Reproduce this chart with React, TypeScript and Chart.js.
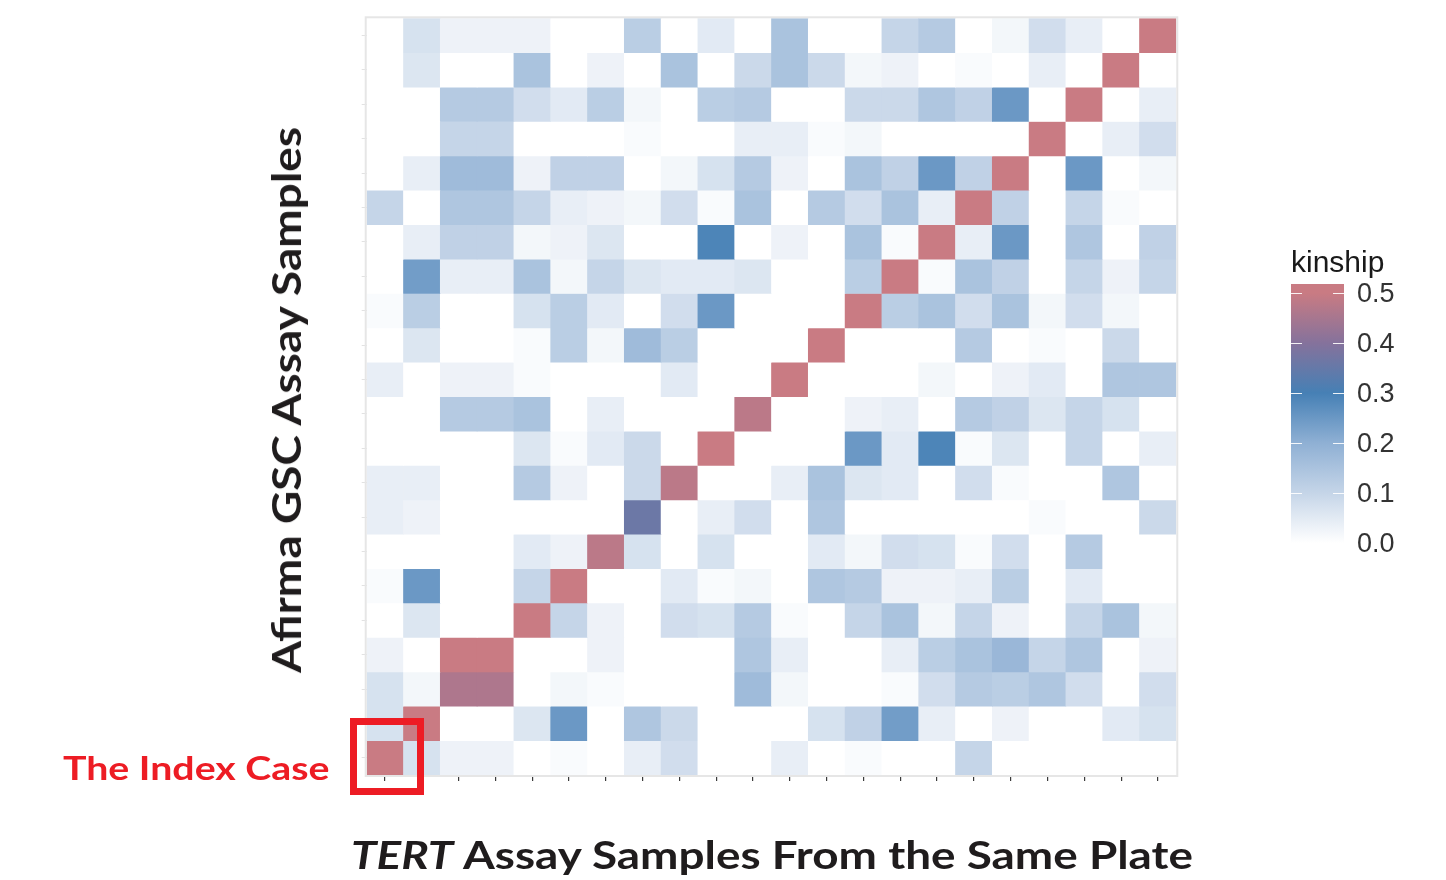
import React, { useEffect, useRef } from "react";
import { Chart, registerables } from "chart.js";

Chart.register(...registerables);

// TERT assay samples (x axis, left to right)
const tertSamples = [
  "T01", "T02", "T03", "T04", "T05", "T06", "T07", "T08", "T09", "T10", "T11",
  "T12", "T13", "T14", "T15", "T16", "T17", "T18", "T19", "T20", "T21", "T22",
];

// Afirma GSC assay samples (y axis, listed top to bottom)
const afirmaSamples = [
  "A22", "A21", "A20", "A19", "A18", "A17", "A16", "A15", "A14", "A13", "A12",
  "A11", "A10", "A09", "A08", "A07", "A06", "A05", "A04", "A03", "A02", "A01",
];

// kinship values per Afirma sample (one value per TERT sample)
const kinA22 = [0, 0.07, 0.03, 0.03, 0.03, 0, 0, 0.12, 0, 0.05, 0, 0.15, 0, 0, 0.1, 0.13, 0, 0.02, 0.08, 0.04, 0, 0.5];
const kinA21 = [0, 0.06, 0, 0, 0.15, 0, 0.03, 0, 0.15, 0, 0.09, 0.15, 0.09, 0.02, 0.03, 0, 0.01, 0, 0.04, 0, 0.5, 0];
const kinA20 = [0, 0, 0.13, 0.13, 0.08, 0.05, 0.12, 0.02, 0, 0.12, 0.13, 0, 0, 0.09, 0.09, 0.14, 0.11, 0.25, 0, 0.5, 0, 0.04];
const kinA19 = [0, 0, 0.1, 0.1, 0, 0, 0, 0.01, 0, 0, 0.04, 0.04, 0.01, 0.02, 0, 0, 0, 0, 0.5, 0, 0.04, 0.08];
const kinA18 = [0, 0.04, 0.17, 0.17, 0.03, 0.11, 0.11, 0, 0.02, 0.07, 0.13, 0.03, 0, 0.15, 0.11, 0.25, 0.11, 0.5, 0, 0.25, 0, 0.02];
const kinA17 = [0.1, 0, 0.14, 0.14, 0.1, 0.04, 0.03, 0.02, 0.08, 0.01, 0.15, 0, 0.13, 0.08, 0.15, 0.04, 0.5, 0.11, 0, 0.1, 0.01, 0];
const kinA16 = [0, 0.04, 0.11, 0.11, 0.02, 0.03, 0.06, 0, 0, 0.29, 0, 0.03, 0, 0.15, 0.01, 0.5, 0.04, 0.25, 0, 0.14, 0, 0.11];
const kinA15 = [0, 0.24, 0.04, 0.04, 0.15, 0.02, 0.1, 0.06, 0.05, 0.05, 0.06, 0, 0, 0.12, 0.5, 0.01, 0.15, 0.11, 0, 0.1, 0.03, 0.1];
const kinA14 = [0.01, 0.12, 0, 0, 0.07, 0.12, 0.05, 0, 0.08, 0.25, 0, 0, 0, 0.5, 0.12, 0.15, 0.08, 0.15, 0.02, 0.08, 0.02, 0];
const kinA13 = [0, 0.06, 0, 0, 0.01, 0.12, 0.02, 0.17, 0.12, 0, 0, 0, 0.5, 0, 0, 0, 0.13, 0, 0.01, 0, 0.09, 0];
const kinA12 = [0.04, 0, 0.03, 0.03, 0.01, 0, 0, 0, 0.05, 0, 0, 0.5, 0, 0, 0, 0.02, 0, 0.03, 0.05, 0, 0.14, 0.14];
const kinA11 = [0, 0, 0.13, 0.13, 0.15, 0, 0.04, 0, 0, 0, 0.48, 0, 0, 0.03, 0.04, 0, 0.13, 0.11, 0.06, 0.1, 0.07, 0];
const kinA10 = [0, 0, 0, 0, 0.06, 0.01, 0.05, 0.09, 0, 0.5, 0, 0, 0, 0.25, 0.05, 0.29, 0.01, 0.06, 0, 0.1, 0, 0.04];
const kinA09 = [0.04, 0.04, 0, 0, 0.13, 0.03, 0, 0.09, 0.48, 0, 0, 0.04, 0.15, 0.06, 0.05, 0, 0.08, 0.01, 0, 0, 0.14, 0];
const kinA08 = [0.04, 0.03, 0, 0, 0, 0, 0, 0.36, 0, 0.04, 0.08, 0, 0.14, 0, 0, 0, 0, 0, 0.01, 0, 0, 0.09];
const kinA07 = [0, 0, 0, 0, 0.05, 0.03, 0.48, 0.07, 0, 0.07, 0, 0, 0.05, 0.02, 0.08, 0.07, 0.01, 0.08, 0, 0.13, 0, 0];
const kinA06 = [0.01, 0.25, 0, 0, 0.1, 0.5, 0, 0, 0.05, 0.01, 0.02, 0, 0.14, 0.13, 0.03, 0.03, 0.04, 0.12, 0, 0.05, 0, 0];
const kinA05 = [0, 0.06, 0, 0, 0.5, 0.1, 0.03, 0, 0.08, 0.07, 0.13, 0.01, 0, 0.1, 0.15, 0.02, 0.1, 0.03, 0, 0.1, 0.15, 0.02];
const kinA04 = [0.03, 0, 0.5, 0.5, 0, 0, 0.03, 0, 0, 0, 0.14, 0.04, 0, 0, 0.04, 0.12, 0.15, 0.18, 0.1, 0.14, 0, 0.03];
const kinA03 = [0.07, 0.02, 0.46, 0.46, 0, 0.02, 0.01, 0, 0, 0, 0.17, 0.02, 0, 0, 0.01, 0.08, 0.13, 0.12, 0.14, 0.08, 0, 0.08];
const kinA02 = [0.07, 0.5, 0, 0, 0.06, 0.25, 0, 0.14, 0.09, 0, 0, 0, 0.07, 0.11, 0.24, 0.04, 0, 0.03, 0, 0, 0.05, 0.07];
const kinA01 = [0.5, 0.07, 0.03, 0.03, 0, 0.01, 0, 0.04, 0.08, 0, 0, 0.04, 0, 0.01, 0, 0, 0.1, 0, 0, 0, 0, 0];

const kinshipRows = [
  kinA22, kinA21, kinA20, kinA19, kinA18, kinA17, kinA16, kinA15, kinA14, kinA13, kinA12,
  kinA11, kinA10, kinA09, kinA08, kinA07, kinA06, kinA05, kinA04, kinA03, kinA02, kinA01,
];

// colour scale
const legendBreaks = [0.5, 0.4, 0.3, 0.2, 0.1, 0.0];
const scaleStops = [0, 0.1, 0.2, 0.3, 0.4, 0.5];
const scaleColors = ["#ffffff", "#c5d5e8", "#8fb0d4", "#4680b5", "#85729c", "#c97b83"];

function hexToRgb(h: string) {
  const n = parseInt(h.slice(1), 16);
  return [(n >> 16) & 255, (n >> 8) & 255, n & 255];
}

function kinshipColor(v: number): string {
  const x = Math.max(scaleStops[0], Math.min(scaleStops[scaleStops.length - 1], v));
  let i = 0;
  while (i < scaleStops.length - 2 && x > scaleStops[i + 1]) i++;
  const t = (x - scaleStops[i]) / (scaleStops[i + 1] - scaleStops[i]);
  const a = hexToRgb(scaleColors[i]);
  const b = hexToRgb(scaleColors[i + 1]);
  const c = a.map((av, k) => Math.round(av + (b[k] - av) * t));
  return `rgb(${c[0]},${c[1]},${c[2]})`;
}

// layout constants (pixels)
const W = 1446;
const H = 880;
const PLOT_LEFT = 366.7;
const PLOT_RIGHT = 1176.3;
const PLOT_TOP = 18.3;
const PLOT_BOTTOM = 775;

const BAR_TOP = 284;
const BAR_ZERO = 543;
const BAR_PX_PER_UNIT = 500;
const barTopValue = (BAR_ZERO - BAR_TOP) / BAR_PX_PER_UNIT;

const panelBorder = {
  id: "panelBorder",
  afterDatasetsDraw(chart: any) {
    const { ctx, chartArea } = chart;
    const { left, top, right, bottom } = chartArea;
    ctx.save();
    ctx.strokeStyle = "#e6e6e6";
    ctx.lineWidth = 2;
    ctx.strokeRect(left - 1, top - 1, right - left + 2, bottom - top + 2);
    ctx.restore();
  },
};

function HeatmapCanvas() {
  const ref = useRef<HTMLCanvasElement | null>(null);
  useEffect(() => {
    if (!ref.current) return;
    const nRows = afirmaSamples.length;
    const datasets = afirmaSamples.map((name, r) => {
      const yPos = nRows - 1 - r;
      return {
        label: name,
        data: kinshipRows[r].map(() => [yPos - 0.5, yPos + 0.5]),
        backgroundColor: kinshipRows[r].map((v) => kinshipColor(v)),
        borderWidth: 0,
        barPercentage: 1,
        categoryPercentage: 1,
        grouped: false,
      };
    });
    const chart = new Chart(ref.current, {
      type: "bar",
      data: { labels: tertSamples, datasets: datasets as any },
      plugins: [panelBorder],
      options: {
        responsive: false,
        animation: false,
        devicePixelRatio: 1,
        layout: {
          padding: { top: PLOT_TOP, right: W - PLOT_RIGHT, left: 0, bottom: 0 },
        },
        plugins: { legend: { display: false }, tooltip: { enabled: false } },
        scales: {
          x: {
            type: "category",
            offset: true,
            grid: {
              offset: false,
              drawOnChartArea: false,
              drawTicks: true,
              tickLength: 6,
              color: "#3a3a3a",
              lineWidth: 1.2,
            },
            border: { display: false },
            ticks: { display: false },
            afterFit: (s: any) => {
              s.height = H - PLOT_BOTTOM;
            },
          },
          y: {
            type: "linear",
            min: -0.5,
            max: nRows - 0.5,
            afterBuildTicks: (s: any) => {
              s.ticks = afirmaSamples.map((_, i) => ({ value: i }));
            },
            grid: {
              drawOnChartArea: false,
              drawTicks: true,
              tickLength: 5,
              color: "#e2e2e2",
            },
            border: { display: false },
            ticks: { display: false },
            afterFit: (s: any) => {
              s.width = PLOT_LEFT;
            },
          },
        },
      },
    });
    return () => chart.destroy();
  }, []);
  return (
    <canvas
      ref={ref}
      width={W}
      height={H}
      style={{ position: "absolute", left: 0, top: 0, width: W, height: H }}
    />
  );
}

export default function App() {
  const gradStops = scaleStops
    .map((v) => `${kinshipColor(v)} ${(((barTopValue - v) / barTopValue) * 100).toFixed(2)}%`)
    .reverse();
  const gradient = `linear-gradient(to bottom, ${kinshipColor(0.5)} 0%, ${gradStops.join(", ")})`;
  const titleFont = "Lato, 'Open Sans', sans-serif";
  return (
    <div
      style={{
        position: "absolute",
        left: 0,
        top: 0,
        width: W,
        height: H,
        background: "#ffffff",
        overflow: "hidden",
      }}
    >
      <HeatmapCanvas />
      {/* y axis title */}
      <div
        style={{
          position: "absolute",
          left: 286,
          top: 400,
          transform: "translate(-50%, -50%) rotate(-90deg) scaleX(1.15)",
          fontFamily: titleFont,
          fontWeight: 700,
          fontSize: 40,
          lineHeight: 1,
          color: "#1f1c1d",
          whiteSpace: "nowrap",
        }}
      >
        Afirma GSC Assay Samples
      </div>
      {/* x axis title */}
      <div
        style={{
          position: "absolute",
          left: 772,
          top: 835,
          transform: "translateX(-50%) scaleX(1.176)",
          fontFamily: titleFont,
          fontWeight: 700,
          fontSize: 39,
          lineHeight: 1,
          color: "#1f1c1d",
          whiteSpace: "nowrap",
        }}
      >
        <i>TERT</i> Assay Samples From the Same Plate
      </div>
      {/* index case annotation */}
      <div
        style={{
          position: "absolute",
          left: 63,
          top: 751,
          transform: "scaleX(1.19)",
          transformOrigin: "left center",
          fontFamily: titleFont,
          fontWeight: 700,
          fontSize: 33,
          lineHeight: 1,
          color: "#ed1c24",
          whiteSpace: "nowrap",
        }}
      >
        The Index Case
      </div>
      <div
        style={{
          position: "absolute",
          left: 350,
          top: 718,
          width: 74,
          height: 77,
          border: "7px solid #ed1c24",
          boxSizing: "border-box",
        }}
      />
      {/* legend */}
      <div
        style={{
          position: "absolute",
          left: 1291,
          top: 247,
          fontFamily: "'Liberation Sans', Arial, sans-serif",
          fontSize: 30,
          lineHeight: 1,
          color: "#1a1a1a",
          whiteSpace: "nowrap",
        }}
      >
        kinship
      </div>
      <div
        style={{
          position: "absolute",
          left: 1291,
          top: BAR_TOP,
          width: 53,
          height: BAR_ZERO - BAR_TOP,
          background: gradient,
        }}
      />
      {legendBreaks.map((b) => {
        const y = BAR_ZERO - b * BAR_PX_PER_UNIT;
        return (
          <React.Fragment key={b}>
            <div
              style={{
                position: "absolute",
                left: 1291,
                top: y - 0.5,
                width: 11,
                height: 1,
                background: "rgba(255,255,255,0.9)",
              }}
            />
            <div
              style={{
                position: "absolute",
                left: 1333,
                top: y - 0.5,
                width: 11,
                height: 1,
                background: "rgba(255,255,255,0.9)",
              }}
            />
            <div
              style={{
                position: "absolute",
                left: 1357,
                top: y,
                transform: "translateY(-50%)",
                fontFamily: "'Liberation Sans', Arial, sans-serif",
                fontSize: 27,
                lineHeight: 1,
                color: "#333333",
                whiteSpace: "nowrap",
              }}
            >
              {b.toFixed(1)}
            </div>
          </React.Fragment>
        );
      })}
    </div>
  );
}
